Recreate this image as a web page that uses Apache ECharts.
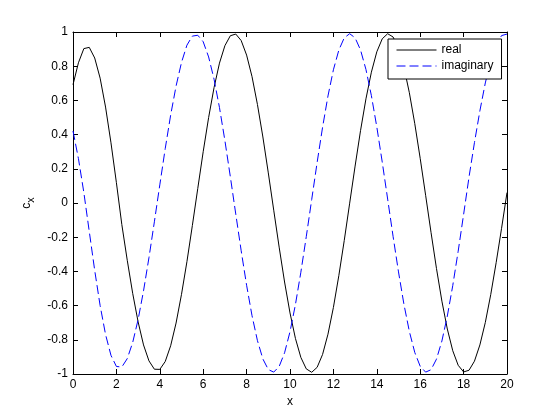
<!DOCTYPE html>
<html>
<head>
<meta charset="utf-8">
<title>c_x real / imaginary</title>
<script src="https://cdn.jsdelivr.net/npm/echarts@6/dist/echarts.min.js"></script>
<style>
    html, body { margin: 0; padding: 0; background: #fff; }
    #main { width: 560px; height: 420px; }
</style>
</head>
<body>
<div id="main"></div>
<script type="text/javascript">
    // sample positions along x
    var xs = [0, 0.25, 0.5, 0.75, 1, 1.25, 1.5, 1.75, 2, 2.25, 2.5, 2.75, 3, 3.25, 3.5, 3.75,
        4, 4.25, 4.5, 4.75, 5, 5.25, 5.5, 5.75, 6, 6.25, 6.5, 6.75, 7, 7.25, 7.5, 7.75,
        8, 8.25, 8.5, 8.75, 9, 9.25, 9.5, 9.75, 10, 10.25, 10.5, 10.75, 11, 11.25, 11.5, 11.75,
        12, 12.25, 12.5, 12.75, 13, 13.25, 13.5, 13.75, 14, 14.25, 14.5, 14.75, 15, 15.25, 15.5, 15.75,
        16, 16.25, 16.5, 16.75, 17, 17.25, 17.5, 17.75, 18, 18.25, 18.5, 18.75, 19, 19.25, 19.5, 19.75, 20];

    // real part
    var realVals = [0.692, 0.820, 0.903, 0.910, 0.848, 0.730, 0.561, 0.352, 0.119, -0.126, -0.335, -0.528, -0.695, -0.830, -0.923, -0.972,
        -0.973, -0.927, -0.835, -0.702, -0.534, -0.343, -0.132, 0.085, 0.300, 0.500, 0.675, 0.818, 0.920, 0.978, 0.988, 0.950,
        0.865, 0.739, 0.576, 0.386, 0.176, -0.042, -0.258, -0.462, -0.643, -0.792, -0.903, -0.970, -0.990, -0.961, -0.886, -0.767,
        -0.611, -0.425, -0.219, -0.001, 0.216, 0.423, 0.609, 0.765, 0.884, 0.960, 0.990, 0.971, 0.904, 0.794, 0.645, 0.464,
        0.261, 0.045, -0.173, -0.383, -0.574, -0.737, -0.864, -0.949, -0.988, -0.978, -0.925, -0.830, -0.699, -0.536, -0.349, -0.148, 0.061];

    // imaginary part
    var imagVals = [0.421, 0.260, 0.061, -0.167, -0.394, -0.600, -0.769, -0.891, -0.956, -0.959, -0.910, -0.816, -0.682, -0.514, -0.320, -0.110,
        0.106, 0.318, 0.514, 0.684, 0.822, 0.923, 0.976, 0.981, 0.943, 0.854, 0.724, 0.558, 0.365, 0.154, -0.064, -0.279,
        -0.481, -0.659, -0.805, -0.912, -0.974, -0.989, -0.956, -0.876, -0.753, -0.594, -0.405, -0.197, 0.020, 0.237, 0.442, 0.626,
        0.779, 0.894, 0.966, 0.990, 0.966, 0.895, 0.781, 0.628, 0.445, 0.240, 0.023, -0.195, -0.403, -0.592, -0.751, -0.874,
        -0.955, -0.989, -0.975, -0.913, -0.807, -0.661, -0.483, -0.282, -0.067, 0.152, 0.353, 0.539, 0.702, 0.832, 0.926, 0.979, 0.988];

    var seriesNames = ['real', 'imaginary'];

    var FONT = '"Liberation Sans", Arial, Helvetica, sans-serif';

    function pairs(vals) {
        return xs.map(function (x, i) { return [x, vals[i]]; });
    }

    var myChart = echarts.init(document.getElementById('main'), null, { renderer: 'canvas' });

    var boxLine = { show: true, onZero: false, lineStyle: { color: '#000', width: 1 } };
    var inTick = { show: true, inside: true, length: 5, lineStyle: { color: '#000', width: 1 } };

    var option = {
        animation: false,
        backgroundColor: '#fff',
        textStyle: { fontFamily: FONT },
        grid: { left: 73, right: 53, top: 32, bottom: 46 },
        legend: {
            data: seriesNames,
            orient: 'vertical',
            left: 388,
            top: 39,
            itemWidth: 40,
            itemHeight: 14,
            itemGap: 4,
            padding: [5, 8, 7, 8],
            borderColor: '#000',
            borderWidth: 1,
            borderRadius: 0,
            backgroundColor: '#fff',
            // line only, no marker in the legend
            itemStyle: { opacity: 0 },
            lineStyle: { width: 1 },
            textStyle: { color: '#000', fontSize: 12, fontFamily: FONT }
        },
        xAxis: [{
            type: 'value',
            min: 0, max: 20, interval: 2,
            position: 'bottom',
            axisLine: boxLine,
            axisTick: inTick,
            splitLine: { show: false },
            axisLabel: { color: '#000', fontSize: 12, margin: 5, fontFamily: FONT },
            name: 'x',
            nameLocation: 'middle',
            nameGap: 21,
            nameTextStyle: { color: '#000', fontSize: 12, fontFamily: FONT }
        }, {
            type: 'value',
            min: 0, max: 20, interval: 2,
            position: 'top',
            axisLine: boxLine,
            axisTick: inTick,
            splitLine: { show: false },
            axisLabel: { show: false }
        }],
        yAxis: [{
            type: 'value',
            min: -1, max: 1, interval: 0.2,
            position: 'left',
            axisLine: boxLine,
            axisTick: inTick,
            splitLine: { show: false },
            axisLabel: { color: '#000', fontSize: 12, margin: 5, fontFamily: FONT },
            name: '{c|c}{s|x}',
            nameLocation: 'middle',
            nameRotate: 90,
            nameGap: 31,
            nameTextStyle: {
                color: '#000',
                rich: {
                    c: { fontSize: 12, fontFamily: FONT, color: '#000', lineHeight: 16, verticalAlign: 'top' },
                    s: { fontSize: 11, fontFamily: FONT, color: '#000', lineHeight: 16, verticalAlign: 'bottom', padding: [9, 0, 0, 0] }
                }
            }
        }, {
            type: 'value',
            min: -1, max: 1, interval: 0.2,
            position: 'right',
            axisLine: boxLine,
            axisTick: inTick,
            splitLine: { show: false },
            axisLabel: { show: false }
        }],
        series: [{
            name: seriesNames[0],
            type: 'line',
            xAxisIndex: 0,
            yAxisIndex: 0,
            data: pairs(realVals),
            symbol: 'none',
            lineStyle: { color: '#000', width: 1, type: 'solid' },
            itemStyle: { color: '#000' }
        }, {
            name: seriesNames[1],
            type: 'line',
            xAxisIndex: 0,
            yAxisIndex: 0,
            data: pairs(imagVals),
            symbol: 'none',
            lineStyle: { color: '#0000ff', width: 1, type: [9, 4] },
            itemStyle: { color: '#0000ff' }
        }]
    };

    myChart.setOption(option);
</script>
</body>
</html>
